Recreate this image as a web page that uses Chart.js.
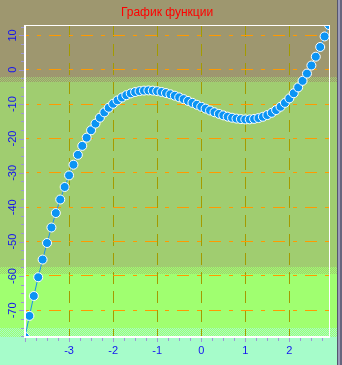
<!DOCTYPE html>
<html>
<head>
<meta charset="utf-8">
<script src="https://cdn.jsdelivr.net/npm/chart.js@4/dist/chart.umd.min.js"></script>
<style>
html, body { margin: 0; padding: 0; background: #A4FDC8; overflow: hidden; }
canvas { display: block; }
</style>
</head>
<body>
<canvas id="graph" width="342" height="365"></canvas>
<script>
const chartTitle = "График функции";

// x values of the plotted points
const xs = [
   -4.0, -3.9, -3.8, -3.7, -3.6, -3.5, -3.4, -3.3, -3.2, -3.1,
   -3.0, -2.9, -2.8, -2.7, -2.6, -2.5, -2.4, -2.3, -2.2, -2.1,
   -2.0, -1.9, -1.8, -1.7, -1.6, -1.5, -1.4, -1.3, -1.2, -1.1,
   -1.0, -0.9, -0.8, -0.7, -0.6, -0.5, -0.4, -0.3, -0.2, -0.1,
   0.0, 0.1, 0.2, 0.3, 0.4, 0.5, 0.6, 0.7, 0.8, 0.9,
   1.0, 1.1, 1.2, 1.3, 1.4, 1.5, 1.6, 1.7, 1.8, 1.9,
   2.0, 2.1, 2.2, 2.3, 2.4, 2.5, 2.6, 2.7, 2.8, 2.9
];

// y values
const ys = [
   -77.75, -71.61, -65.82, -60.36, -55.22, -50.40, -45.89, -41.68, -37.75, -34.10,
   -30.73, -27.62, -24.75, -22.14, -19.75, -17.60, -15.66, -13.93, -12.39, -11.05,
   -9.89, -8.90, -8.07, -7.39, -6.86, -6.47, -6.20, -6.06, -6.01, -6.07,
   -6.22, -6.46, -6.76, -7.13, -7.55, -8.02, -8.53, -9.06, -9.62, -10.18,
   -10.74, -11.30, -11.84, -12.35, -12.82, -13.26, -13.64, -13.95, -14.20, -14.36,
   -14.44, -14.42, -14.29, -14.04, -13.67, -13.17, -12.52, -11.72, -10.76, -9.63,
   -8.32, -6.82, -5.12, -3.22, -1.10, 1.24, 3.81, 6.63, 9.70, 13.03
];

const xTicks = [-3, -2, -1, 0, 1, 2];
const yTicks = [10, 0, -10, -20, -30, -40, -50, -60, -70];
const xMinorStep = 0.25;
const yMinorStep = 2.5;

const tan = "#9E976F";
const midGreen = "#A0CD70";
const brightGreen = "#A0FF70";
const mint = "#A6FCCA";
const labelBlue = "#1414F0";
const tickLilac = "#9C96D6";

function checker(ctx, a, b) {
   const c = document.createElement("canvas");
   c.width = 2;
   c.height = 2;
   const g = c.getContext("2d");
   g.fillStyle = a;
   g.fillRect(0, 0, 2, 2);
   g.fillStyle = b;
   g.fillRect(0, 0, 1, 1);
   g.fillRect(1, 1, 1, 1);
   return ctx.createPattern(c, "repeat");
}

const bands = {
   id: "bands",
   beforeDraw(chart) {
      const ctx = chart.ctx;
      const w = chart.width;
      ctx.save();
      ctx.fillStyle = tan;
      ctx.fillRect(0, 0, w, 77);
      ctx.fillStyle = checker(ctx, tan, midGreen);
      ctx.fillRect(0, 77, w, 5);
      ctx.fillStyle = midGreen;
      ctx.fillRect(0, 82, w, 185);
      ctx.fillStyle = checker(ctx, midGreen, brightGreen);
      ctx.fillRect(0, 267, w, 7);
      ctx.fillStyle = brightGreen;
      ctx.fillRect(0, 274, w, 54);
      ctx.fillStyle = checker(ctx, brightGreen, mint);
      ctx.fillRect(0, 328, w, 9);
      ctx.fillStyle = mint;
      ctx.fillRect(0, 337, w, chart.height - 337);
      ctx.restore();
   }
};

const frame = {
   id: "frame",
   afterDatasetsDraw(chart) {
      const ctx = chart.ctx;
      const a = chart.chartArea;
      const x = chart.scales.x;
      const y = chart.scales.y;
      ctx.save();

      // white frame
      ctx.fillStyle = "#FFFFFF";
      ctx.fillRect(a.left, a.top, a.right - a.left + 1, 1);
      ctx.fillRect(a.right, a.top, 1, a.bottom - a.top);
      ctx.fillRect(a.left - 1, a.top, 2, a.bottom - a.top + 1);
      ctx.fillRect(a.left - 1, a.bottom - 1, a.right - a.left + 2, 2);

      // small ticks
      ctx.fillStyle = tickLilac;
      for (let k = Math.ceil(y.min / yMinorStep); k * yMinorStep <= y.max; k++) {
         const v = k * yMinorStep;
         const py = Math.round(y.getPixelForValue(v));
         const len = v % 10 === 0 ? 5 : 3;
         ctx.fillRect(a.left - 1 - len, py, len, 1);
      }
      for (let k = Math.ceil(x.min / xMinorStep); k * xMinorStep <= x.max; k++) {
         const v = k * xMinorStep;
         const px = Math.round(x.getPixelForValue(v));
         const len = Number.isInteger(v) ? 4 : 3;
         ctx.fillRect(px, a.bottom + 1, 1, len);
      }

      // tick labels
      ctx.fillStyle = labelBlue;
      ctx.font = "11px 'Liberation Sans', Arial, sans-serif";
      ctx.textAlign = "center";
      ctx.textBaseline = "middle";
      yTicks.forEach(v => {
         ctx.save();
         ctx.translate(13, y.getPixelForValue(v));
         ctx.rotate(-Math.PI / 2);
         ctx.fillText(String(v), 0, 0);
         ctx.restore();
      });
      xTicks.forEach(v => {
         ctx.fillText(String(v), x.getPixelForValue(v), 351);
      });

      // title
      ctx.fillStyle = "#FF0000";
      ctx.font = "12px 'Liberation Sans', Arial, sans-serif";
      ctx.fillText(chartTitle, 167, 13);

      // window edge on the right
      ctx.fillStyle = "#55556E";
      ctx.fillRect(337, 0, 1, chart.height);
      ctx.fillStyle = "#9A9AB8";
      ctx.fillRect(338, 0, 2, chart.height);
      ctx.fillStyle = "#66667E";
      ctx.fillRect(340, 0, 2, chart.height);
      ctx.restore();
   }
};

let graph = new Chart("graph", {
   type: "line",
   data: {
      datasets: [
         {
            data: xs.map((v, i) => ({ x: v, y: ys[i] })),
            borderColor: "#1890F0",
            borderWidth: 1,
            pointRadius: 4.5,
            pointBackgroundColor: "#0B94F4",
            pointBorderColor: "#FFFFFF",
            pointBorderWidth: 1,
            tension: 0,
            clip: 0
         }
      ]
   },
   options: {
      responsive: false,
      animation: false,
      layout: {
         padding: { top: 25, right: 13, left: 0, bottom: 0 }
      },
      plugins: {
         legend: { display: false },
         title: { display: false },
         tooltip: { enabled: false }
      },
      scales: {
         x: {
            type: "linear",
            min: xs[0],
            max: xs[xs.length - 1],
            afterBuildTicks: s => { s.ticks = xTicks.map(v => ({ value: v })); },
            afterFit: s => { s.height = 28; },
            ticks: { display: false },
            grid: { color: "#A39B00", lineWidth: 1, drawTicks: false },
            border: { display: false, dash: [12, 7] }
         },
         y: {
            type: "linear",
            min: Math.min(...ys),
            max: Math.max(...ys),
            afterBuildTicks: s => { s.ticks = yTicks.map(v => ({ value: v })); },
            afterFit: s => { s.width = 25; },
            ticks: { display: false },
            grid: { color: "#FF9A00", lineWidth: 1, drawTicks: false },
            border: { display: false, dash: [4, 8, 12, 8], dashOffset: 20 }
         }
      }
   },
   plugins: [bands, frame]
});
</script>
</body>
</html>
